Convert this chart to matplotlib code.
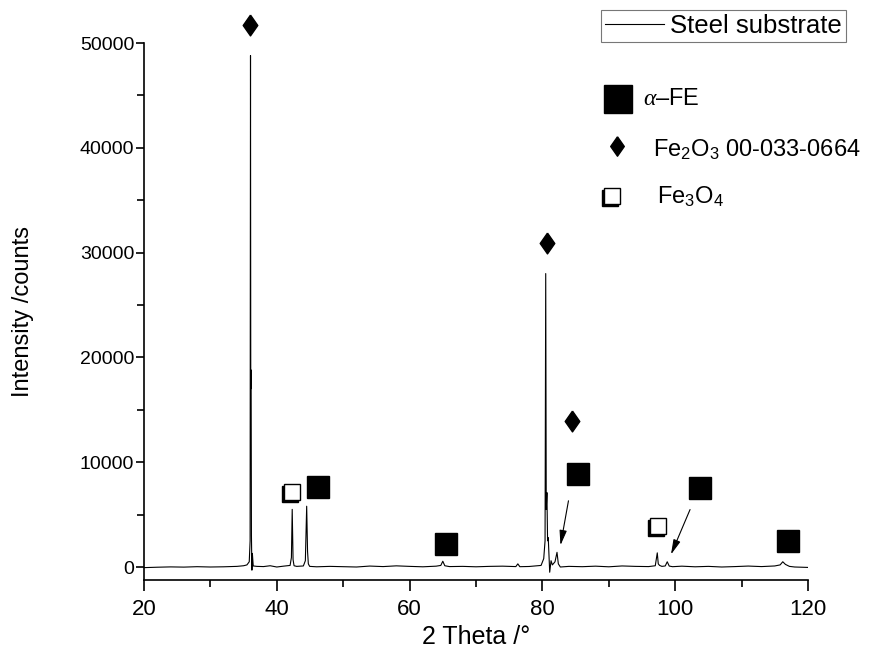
import matplotlib
matplotlib.use("Agg")
import matplotlib.pyplot as plt
from matplotlib.ticker import MultipleLocator

plt.rcParams["font.family"] = ["Liberation Sans", "DejaVu Sans"]
plt.rcParams["mathtext.fontset"] = "custom"
plt.rcParams["mathtext.rm"] = "Liberation Sans"
plt.rcParams["mathtext.it"] = "Liberation Serif:italic"

# -----------------------------
# XRD pattern of the steel substrate (2theta in degrees, counts)
# -----------------------------
two_theta = [20, 22, 24, 26, 28, 30, 32, 34, 35.0, 35.5, 35.85, 35.98,
             36.04, 36.08, 36.13, 36.18, 36.25, 36.32, 36.45, 37, 38, 39,
             40, 41, 42.0, 42.2, 42.32, 42.45, 42.6, 43, 44, 44.3, 44.5,
             44.63, 44.75, 44.95, 46, 48, 50, 52, 54, 56, 58, 60, 62, 64,
             64.7, 65.0, 65.3, 66, 68, 70, 72, 74, 76, 76.3, 76.6, 78,
             79.8, 80.2, 80.4, 80.5, 80.58, 80.68, 80.78, 80.88, 81.1,
             81.3, 81.5, 81.9, 82.2, 82.4, 82.7, 84, 86, 88, 90, 92, 94,
             96, 97.0, 97.3, 97.45, 97.65, 98.0, 98.5, 98.8, 99.1, 99.6,
             101, 103, 105, 107, 109, 111, 113, 115, 115.8, 116.2, 116.6,
             117.2, 118, 119, 120]
counts = [-60, -20, 10, -10, 30, 0, 20, 60, 120, 200, 500, 2500,
          48800, 17000, 18800, 3000, -300, 1300, 100, 60, 40, 120,
          0, 80, 150, 900, 5500, 700, 120, 60, 100, 600, 5800,
          1500, 300, 60, 20, 60, 30, 0, 90, 40, 110, 60, 20, 80,
          150, 550, 120, 40, 60, 20, 60, 80, 40, 300, 30, 50,
          150, 800, 2500, 28000, 5500, 7100, 2500, 2800, -500,
          600, 200, 500, 1400, 300, 0, 60, 30, 80, 20, 100, 60,
          40, 120, 1350, 300, 150, 60, 100, 500, 90, 30,
          80, 20, 60, 0, 40, 90, 40, 100, 200, 500, 250,
          60, 0, -20, -40]

# phase markers above the peaks
alpha_fe_pos = [(46.2, 7630), (65.5, 2200), (85.4, 8870), (103.7, 7540), (117.0, 2480)]
fe2o3_pos = [(36.0, 51700), (80.7, 30900), (84.5, 13930)]
fe3o4_pos = [(42.3, 7160), (97.4, 3900)]

# arrows pointing from a label down to its small peak: (tail, head)
arrows = [((84.0, 6580), (82.65, 1810)),
          ((102.4, 5725), (99.2, 950))]

diamond = [(0, 1), (0.7, 0), (0, -1), (-0.7, 0), (0, 1)]

fig = plt.figure(figsize=(8.75, 6.57), dpi=100)
ax = fig.add_axes([144 / 875, 1 - 580 / 657, 664 / 875, 537 / 657])

ax.plot(two_theta, counts, color="black", lw=0.8, label="Steel substrate")

ax.set_xlim(20, 120)
ax.set_ylim(-1240, 50000)
ax.spines["top"].set_visible(False)
ax.spines["right"].set_visible(False)
ax.spines["left"].set_linewidth(1.2)
ax.spines["bottom"].set_linewidth(1.2)

ax.xaxis.set_major_locator(MultipleLocator(20))
ax.xaxis.set_minor_locator(MultipleLocator(10))
ax.yaxis.set_major_locator(MultipleLocator(10000))
ax.yaxis.set_minor_locator(MultipleLocator(5000))
ax.tick_params(which="major", direction="out", length=8, width=1.2)
ax.tick_params(which="minor", direction="out", length=5, width=1.2)
ax.tick_params(axis="y", which="major", length=6)
ax.tick_params(axis="x", labelsize=16, pad=6)
ax.tick_params(axis="y", labelsize=14, pad=1)

ax.set_xlabel("2 Theta /°", fontsize=18, labelpad=3)
ax.set_ylabel("Intensity /counts", fontsize=17, labelpad=33)

# annotation symbols
for x, y in alpha_fe_pos:
    ax.plot(x, y, marker="s", ms=15.5, color="black", clip_on=False)
for x, y in fe2o3_pos:
    ax.plot(x, y, marker=diamond, ms=15, color="black", clip_on=False)
for x, y in fe3o4_pos:
    # open square with a dark drop shadow
    ax.plot(x - 0.25, y - 150, marker="s", ms=12, color="black", clip_on=False)
    ax.plot(x, y, marker="s", ms=12, mfc="white", mec="black", mew=1.0, clip_on=False)

for (x0, y0), (x1, y1) in arrows:
    ax.annotate("", xy=(x1, y1), xytext=(x0, y0),
                arrowprops=dict(arrowstyle="-|>,head_length=0.9,head_width=0.22",
                                color="black", lw=0.8))

# phase key
def ax_frac(px, py):
    return ((px - 144) / 664, (580 - py) / 537)

kx, ky = ax_frac(618, 99)
ax.plot(kx, ky, marker="s", ms=20, color="black", transform=ax.transAxes, clip_on=False)
tx, ty = ax_frac(643, 99)
ax.text(tx, ty, r"$\alpha$–FE", fontsize=17, va="center", ha="left", transform=ax.transAxes)

kx, ky = ax_frac(617, 146)
ax.plot(kx, ky, marker=diamond, ms=14, color="black", transform=ax.transAxes, clip_on=False)
tx, ty = ax_frac(653, 150)
ax.text(tx, ty, r"Fe$_2$O$_3$ 00-033-0664", fontsize=17, va="center", ha="left",
        transform=ax.transAxes)

kx, ky = ax_frac(612, 196)
ax.plot(kx - 0.0025, ky - 0.003, marker="s", ms=11, color="black", transform=ax.transAxes, clip_on=False)
ax.plot(kx, ky, marker="s", ms=11, mfc="white", mec="black", mew=1.0,
        transform=ax.transAxes, clip_on=False)
tx, ty = ax_frac(657, 197)
ax.text(tx, ty, r"Fe$_3$O$_4$", fontsize=17, va="center", ha="left", transform=ax.transAxes)

leg = fig.legend(loc="upper right", bbox_to_anchor=(846 / 875, 1 - 10 / 657),
                 fontsize=18.5, frameon=True, fancybox=False, handlelength=2.3,
                 borderpad=0.15, handletextpad=0.25, borderaxespad=0)
leg.get_frame().set_edgecolor("#555555")
leg.get_frame().set_linewidth(0.8)

fig.savefig("out.png", dpi=100)
